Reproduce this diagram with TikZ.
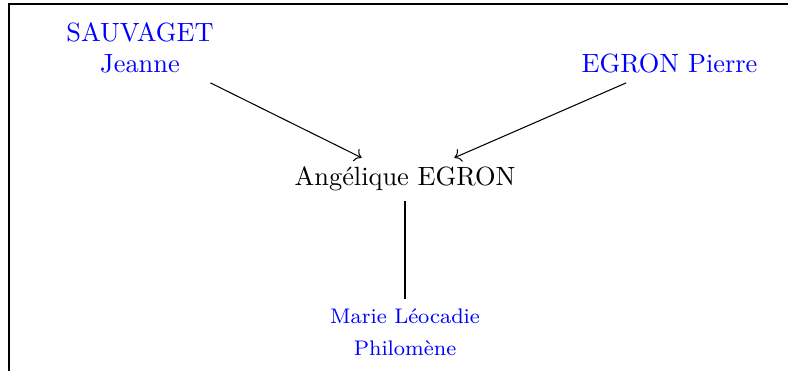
\documentclass[tikz,border=0pt]{standalone}
\usepackage{tikz}
\usetikzlibrary{arrows.meta}

\begin{document}
\begin{tikzpicture}[
    x=0.379pt, y=-0.379pt,
    parent/.style={text=blue, align=center},
    self/.style={align=center},
    child/.style={text=blue, align=center, font=\fontsize{8}{12}\selectfont},
    link/.style={->},
  ]
    \useasboundingbox (0,0) rectangle (788,371);
    \draw[line width=0.5pt] (9,371) -- (9,4) -- (788,4);
    \node[self, anchor=base] (angelique) at (405,186) {Angélique EGRON};
    \node[parent] (jeanne) at (140,48) {SAUVAGET\\Jeanne};
    \node[parent, anchor=base] (pierre) at (669.5,73) {EGRON Pierre};
    \node[child] (marie) at (405,332) {Marie Léocadie\\Philomène};
    \draw[link] (jeanne) -- (angelique);
    \draw[link] (pierre) -- (angelique);
    \draw (angelique) -- (marie);
  \end{tikzpicture}
\end{document}
